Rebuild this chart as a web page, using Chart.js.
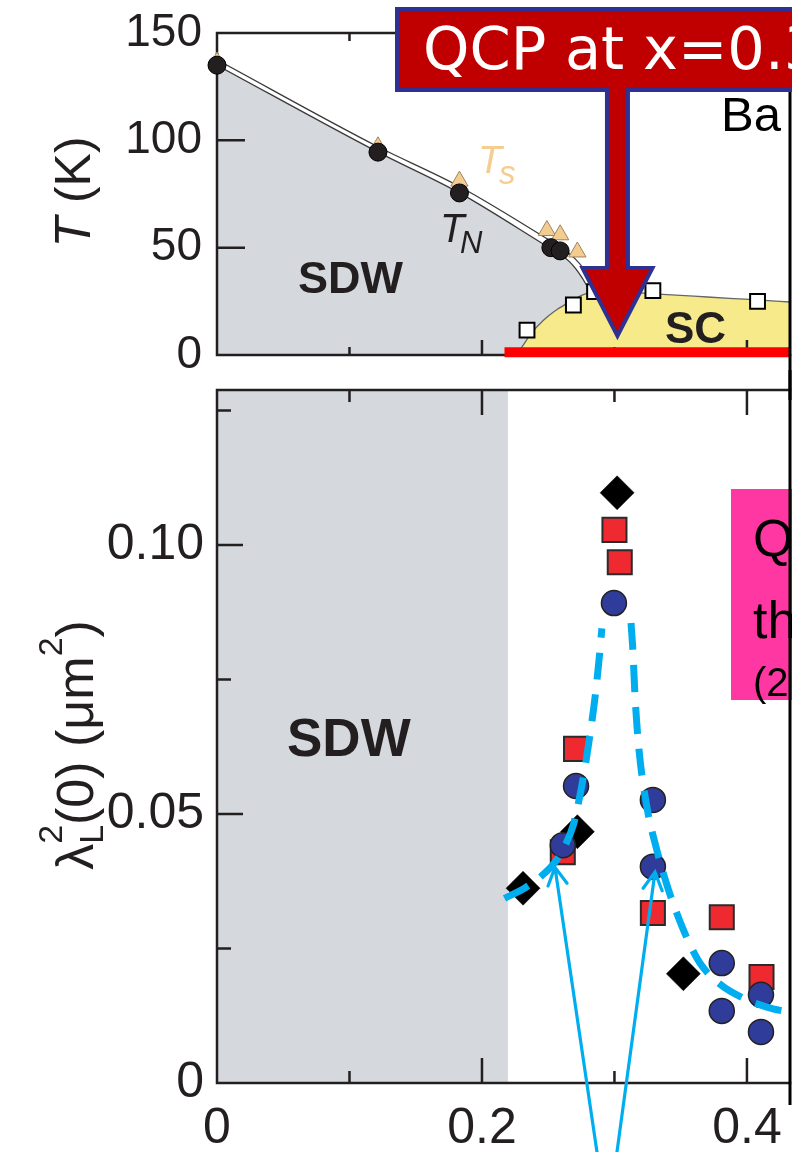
<!DOCTYPE html>
<html lang="en">
<head>
<meta charset="UTF-8">
<title>BaFe2(As1-xPx)2 phase diagram and penetration depth</title>
<script src="https://cdn.jsdelivr.net/npm/chart.js"></script>
<style>
  body { margin: 0; background: #fff; }
  #wrap { position: relative; width: 792px; height: 1152px; overflow: hidden; }
  canvas { position: absolute; left: 0; }
  #topChart { top: 0; }
  #bottomChart { top: 370px; }
</style>
</head>
<body>
<div id="wrap">
  <canvas id="topChart" width="792" height="400"></canvas>
  <canvas id="bottomChart" width="792" height="782"></canvas>
</div>
<script>
const FONT = '"Liberation Sans", Arial, Helvetica, sans-serif';
const INK = '#231f20';
const CYAN = '#00aeef';

// shared x axis (P content x)
const xMax = 0.4325;
const xTicks = [0, 0.2, 0.4];
const xMajorMarks = [0.2, 0.4];
const xMinorMarks = [0.1, 0.3];

// ---- top panel: T (K) ----
const tMax = 150;
const tTicks = [0, 50, 100, 150];
const tMarks = [50, 100];

const tnX = [0, 0.1215, 0.183, 0.252, 0.259];
const tnY = [135, 94.5, 75.5, 50, 48.5];
const tsX = [0, 0.1215, 0.183, 0.249, 0.259, 0.272];
const tsY = [136.5, 97, 81, 58, 56, 48];
const scX = [0.234, 0.269, 0.285, 0.329, 0.408];
const scY = [11.6, 23.3, 29.5, 30, 25];

const tnLineX = [0, 0.1215, 0.183, 0.252, 0.260, 0.266, 0.271, 0.2755, 0.280, 0.284];
const tnLineY = [135, 94.5, 75.5, 49.5, 46.5, 43.5, 40, 36, 31.5, 29];
const tsLineX = [0, 0.1215, 0.183, 0.252, 0.262, 0.270, 0.277, 0.283, 0.288];
const tsLineY = [137.5, 97, 78.5, 53, 49, 45, 40, 34.5, 30];
const domeX = [0.226, 0.231, 0.237, 0.246, 0.255, 0.264, 0.272, 0.28, 0.29, 0.31, 0.33, 0.36, 0.39, 0.41, 0.4325];
const domeY = [0, 4.5, 10, 16, 20.5, 24, 26.8, 28.8, 29.6, 29.3, 28.5, 27.4, 26.3, 25.6, 24.7];
const redLineX = [0.217, 0.4325];
const redLineY = [1.3, 1.3];
const qcpX = 0.3;

// ---- bottom panel: lambda_L^2(0) (um^2) ----
const lamMax = 0.1288;
const lamTicks = [0, 0.05, 0.10];
const lamMajorMarks = [0.05, 0.10];
const lamMinorMarks = [0.025, 0.075, 0.125];
const sdwBandX = [0, 0.2196];

const diamondX = [0.231, 0.272, 0.302, 0.352];
const diamondY = [0.0362, 0.0467, 0.1097, 0.0203];
const squareX = [0.261, 0.271, 0.300, 0.304, 0.329, 0.381, 0.411];
const squareY = [0.0429, 0.0621, 0.1028, 0.0968, 0.0316, 0.0308, 0.0197];
const circleX = [0.261, 0.271, 0.2996, 0.329, 0.329, 0.381, 0.381, 0.4106, 0.4106];
const circleY = [0.0442, 0.0552, 0.0892, 0.0526, 0.0402, 0.0223, 0.0134, 0.0164, 0.0095];

const fitLeftX = [0.217, 0.232, 0.245, 0.255, 0.263, 0.269, 0.274, 0.278, 0.282, 0.2855, 0.2885, 0.2905];
const fitLeftY = [0.0343, 0.0362, 0.0385, 0.041, 0.0443, 0.048, 0.0535, 0.059, 0.0655, 0.072, 0.079, 0.0845];
const fitRightX = [0.3125, 0.314, 0.3155, 0.3185, 0.3245, 0.332, 0.34, 0.347, 0.355, 0.3645, 0.38, 0.397, 0.415, 0.4325];
const fitRightY = [0.0855, 0.080, 0.072, 0.062, 0.0513, 0.0433, 0.0365, 0.0316, 0.0268, 0.0223, 0.0183, 0.0158, 0.0141, 0.0131];

// arrows pointing at the two samples either side of the peak
const arrowTailX = [0.2868, 0.3019];
const arrowTailY = [-0.0128, -0.0128];
const arrowTipX = [0.2551, 0.3306];
const arrowTipY = [0.0401, 0.0392];

const pts = (xs, ys) => xs.map((x, i) => ({x: x, y: ys[i]}));

function txt(ctx, s, x, y, font, color, align) {
  ctx.font = font;
  ctx.fillStyle = color;
  ctx.textAlign = align || 'left';
  ctx.textBaseline = 'alphabetic';
  ctx.fillText(s, x, y);
}

// rotated axis title built from pieces (sub/superscripts)
function vTitle(ctx, cx, cy, parts) {
  ctx.save();
  ctx.translate(cx, cy);
  ctx.rotate(-Math.PI / 2);
  ctx.fillStyle = INK;
  ctx.textBaseline = 'alphabetic';
  ctx.textAlign = 'left';
  let total = 0;
  parts.forEach(p => { ctx.font = p.font; p.w = ctx.measureText(p.t).width; if (!p.stack) total += p.w; });
  let x = -total / 2, last = x;
  parts.forEach(p => {
    ctx.font = p.font;
    const at = p.stack ? last : x;
    ctx.fillText(p.t, at, p.dy || 0);
    if (!p.stack) { last = x; x += p.w; }
  });
  ctx.restore();
}

// axis box with inward tick marks, drawn right after the shaded regions
function drawFrame(chart, o) {
  const ctx = chart.ctx, a = chart.chartArea, xs = chart.scales.x, ys = chart.scales.y;
  ctx.save();
  ctx.strokeStyle = INK;
  ctx.lineWidth = 2.5;
  ctx.lineCap = 'square';
  ctx.beginPath();
  ctx.moveTo(a.right, a.top); ctx.lineTo(a.left, a.top);
  ctx.lineTo(a.left, a.bottom); ctx.lineTo(a.right, a.bottom);
  ctx.stroke();
  ctx.lineCap = 'butt';
  ctx.beginPath();
  const xt = (vals, len) => vals.forEach(v => {
    const px = xs.getPixelForValue(v);
    ctx.moveTo(px, a.bottom); ctx.lineTo(px, a.bottom - len);
    ctx.moveTo(px, a.top); ctx.lineTo(px, a.top + len);
  });
  const yt = (vals, len) => vals.forEach(v => {
    const py = ys.getPixelForValue(v);
    ctx.moveTo(a.left, py); ctx.lineTo(a.left + len, py);
  });
  xt(xMajorMarks, o.xMajor); xt(xMinorMarks, o.xMinor);
  yt(o.yMajorVals, o.yMajor); yt(o.yMinorVals || [], o.yMinor || 0);
  ctx.stroke();
  ctx.restore();
}

const framePlugin = {
  id: 'frame',
  afterDatasetDraw(chart, args, opts) {
    if (chart.data.datasets[args.index].label === opts.after) drawFrame(chart, opts);
  }
};

function xScale(showLabels, h) {
  return {
    type: 'linear', min: 0, max: xMax,
    grid: {display: false}, border: {display: false},
    afterBuildTicks: s => { s.ticks = xTicks.map(v => ({value: v})); },
    ticks: {display: showLabels, autoSkip: false, maxRotation: 0, padding: 8, color: INK,
      font: {family: FONT, size: 50}, callback: v => v === 0 ? '0' : v.toFixed(1)},
    afterFit: s => { s.height = h; s.paddingLeft = 0; s.paddingRight = 0; }
  };
}

function yScale(max, ticks, size, pad, fmt) {
  return {
    type: 'linear', min: 0, max: max,
    grid: {display: false}, border: {display: false},
    afterBuildTicks: s => { s.ticks = ticks.map(v => ({value: v})); },
    ticks: {autoSkip: false, padding: pad, color: INK, font: {family: FONT, size: size}, callback: fmt},
    afterFit: s => { s.width = 217; s.paddingTop = 0; s.paddingBottom = 0; }
  };
}

// nudge layout padding until the plot box sits where it should
function pinArea(chart, pad, want) {
  for (let i = 0; i < 3; i++) {
    const a = chart.chartArea;
    const dr = a.right - want.right, dt = want.top - a.top, db = a.bottom - want.bottom;
    if (Math.abs(dr) < 0.5 && Math.abs(dt) < 0.5 && Math.abs(db) < 0.5) break;
    pad.right += dr; pad.top += dt; pad.bottom += db;
    chart.update();
  }
}

// ---------- top: phase diagram ----------
const topDecor = {
  id: 'topDecor',
  afterDraw(chart) {
    const ctx = chart.ctx, a = chart.chartArea, xs = chart.scales.x;
    ctx.save();
    txt(ctx, 'SDW', 298, 293, 'bold 45px ' + FONT, INK);
    txt(ctx, 'SC', 665, 343, 'bold 44px ' + FONT, INK);
    txt(ctx, 'T', 440, 242, 'italic 40px ' + FONT, INK);
    txt(ctx, 'N', 460, 253, 'italic 31px ' + FONT, INK);
    txt(ctx, 'T', 478, 173, 'italic 39px ' + FONT, '#f5cd91');
    txt(ctx, 's', 499, 184, 'italic 33px ' + FONT, '#f5cd91');
    txt(ctx, 'Ba', 721, 131, '49px ' + FONT, '#000');
    vTitle(ctx, 90, 192, [
      {t: 'T', font: 'italic 50px ' + FONT},
      {t: ' (K)', font: '50px ' + FONT}
    ]);
    // right border of the neighbouring panel
    ctx.strokeStyle = '#000';
    ctx.lineWidth = 3;
    ctx.beginPath(); ctx.moveTo(a.right, 90); ctx.lineTo(a.right, chart.height); ctx.stroke();

    // QCP callout with arrow down to x = 0.3
    const tip = xs.getPixelForValue(qcpX) + 3;
    ctx.beginPath();
    ctx.moveTo(397, 9);
    ctx.lineTo(820, 9);
    ctx.lineTo(820, 90);
    ctx.lineTo(tip + 10.5, 90);
    ctx.lineTo(tip + 10.5, 268);
    ctx.lineTo(tip + 35, 268);
    ctx.lineTo(tip, 336);
    ctx.lineTo(tip - 35, 268);
    ctx.lineTo(tip - 10.5, 268);
    ctx.lineTo(tip - 10.5, 90);
    ctx.lineTo(397, 90);
    ctx.closePath();
    ctx.fillStyle = '#c00000';
    ctx.fill();
    ctx.lineJoin = 'miter';
    ctx.lineWidth = 4;
    ctx.strokeStyle = '#2e3192';
    ctx.stroke();
    txt(ctx, 'QCP at x=0.3', 423, 69, '59px "DejaVu Sans", sans-serif', '#fff');
    ctx.restore();
  }
};

const topPad = {left: 0, right: 2, top: 33, bottom: 0};
const topChart = new Chart(document.getElementById('topChart'), {
  type: 'scatter',
  data: {datasets: [
    {label: 'SC window', type: 'line', data: pts(redLineX, redLineY), borderColor: '#ff0000', borderWidth: 10,
      borderCapStyle: 'butt', pointRadius: 0, fill: false, clip: false},
    {label: 'T_N', data: pts(tnX, tnY), pointStyle: 'circle', pointRadius: 9,
      backgroundColor: INK, borderColor: '#000', borderWidth: 1, clip: false},
    {label: 'T_s', data: pts(tsX, tsY), pointStyle: 'triangle', pointRadius: 10,
      backgroundColor: '#f3cd90', borderColor: '#9c8462', borderWidth: 1, clip: false},
    {label: 'T_c', data: pts(scX, scY), pointStyle: 'rect', pointRadius: 10.5,
      backgroundColor: '#fff', borderColor: '#000', borderWidth: 2, clip: false},
    {label: 'T_s line', type: 'line', data: pts(tsLineX, tsLineY), borderColor: '#3a3a3a', borderWidth: 1.3,
      pointRadius: 0, fill: false, cubicInterpolationMode: 'monotone'},
    {label: 'SC dome', type: 'line', data: pts(domeX, domeY), borderColor: '#666', borderWidth: 1.3,
      backgroundColor: '#f6ea8b', fill: 'origin', pointRadius: 0, cubicInterpolationMode: 'monotone'},
    {label: 'SDW region', type: 'line', data: pts(tnLineX, tnLineY), borderColor: '#3a3a3a', borderWidth: 1.3,
      backgroundColor: '#d5d8dd', fill: 'origin', pointRadius: 0, cubicInterpolationMode: 'monotone'}
  ]},
  options: {
    responsive: false, animation: false, events: [],
    layout: {padding: topPad, autoPadding: false},
    scales: {
      x: xScale(false, 45),
      y: yScale(tMax, tTicks, 46, 7, v => String(v))
    },
    plugins: {
      legend: {display: false}, tooltip: {enabled: false},
      frame: {after: 'SC dome', xMajor: 15, xMinor: 8, yMajorVals: tMarks, yMajor: 28}
    }
  },
  plugins: [framePlugin, topDecor]
});
pinArea(topChart, topPad, {right: 790, top: 33, bottom: 355});

// ---------- bottom: penetration depth ----------
function arrow(ctx, x0, y0, x1, y1) {
  const ang = Math.atan2(y1 - y0, x1 - x0), len = 20, spread = 0.5;
  ctx.beginPath();
  ctx.moveTo(x0, y0); ctx.lineTo(x1, y1);
  ctx.moveTo(x1 - len * Math.cos(ang - spread), y1 - len * Math.sin(ang - spread));
  ctx.lineTo(x1, y1);
  ctx.lineTo(x1 - len * Math.cos(ang + spread), y1 - len * Math.sin(ang + spread));
  ctx.stroke();
}

const bottomDecor = {
  id: 'bottomDecor',
  afterDraw(chart) {
    const ctx = chart.ctx, a = chart.chartArea, xs = chart.scales.x, ys = chart.scales.y;
    ctx.save();
    txt(ctx, 'SDW', 287, 386, 'bold 53px ' + FONT, INK);

    // pink note box (cut by the panel edge)
    ctx.fillStyle = '#ff37a3';
    ctx.fillRect(731, 119, 70, 211);
    txt(ctx, 'Q', 753, 186, '52px ' + FONT, '#000');
    txt(ctx, 'th', 753, 268, '52px ' + FONT, '#000');
    txt(ctx, '(2', 753, 326, '40px ' + FONT, '#000');

    ctx.strokeStyle = CYAN;
    ctx.lineWidth = 3.2;
    ctx.lineCap = 'round';
    for (let i = 0; i < arrowTipX.length; i++) {
      arrow(ctx, xs.getPixelForValue(arrowTailX[i]), ys.getPixelForValue(arrowTailY[i]),
        xs.getPixelForValue(arrowTipX[i]), ys.getPixelForValue(arrowTipY[i]));
    }

    ctx.strokeStyle = '#000';
    ctx.lineWidth = 3;
    ctx.lineCap = 'butt';
    ctx.beginPath(); ctx.moveTo(a.right, 0); ctx.lineTo(a.right, a.bottom + 22); ctx.stroke();

    vTitle(ctx, 93, 375, [
      {t: '\u03bb', font: '52px ' + FONT},
      {t: 'L', font: '34px ' + FONT, dy: 10},
      {t: '2', font: '34px ' + FONT, dy: -31, stack: true},
      {t: '(0) (\u03bcm', font: '52px ' + FONT},
      {t: '2', font: '34px ' + FONT, dy: -31},
      {t: ')', font: '52px ' + FONT}
    ]);
    ctx.restore();
  }
};

const fitStyle = {type: 'line', borderColor: CYAN, borderWidth: 7, borderDash: [27, 15], borderCapStyle: 'butt',
  pointRadius: 0, fill: false, cubicInterpolationMode: 'monotone', clip: false};

const bottomPad = {left: 0, right: 2, top: 20, bottom: 0};
const bottomChart = new Chart(document.getElementById('bottomChart'), {
  type: 'scatter',
  data: {datasets: [
    Object.assign({label: 'fit left', data: pts(fitLeftX, fitLeftY)}, fitStyle),
    Object.assign({label: 'fit right', data: pts(fitRightX, fitRightY)}, fitStyle),
    {label: 'circles', data: pts(circleX, circleY), pointStyle: 'circle', pointRadius: 12.5,
      backgroundColor: '#303c9a', borderColor: '#222', borderWidth: 1.5, clip: false},
    {label: 'diamonds', data: pts(diamondX, diamondY), pointStyle: 'rectRot', pointRadius: 17,
      backgroundColor: '#000', borderColor: '#000', borderWidth: 0.5, clip: false},
    {label: 'squares', data: pts(squareX, squareY), pointStyle: 'rect', pointRadius: 17,
      backgroundColor: '#ee2a30', borderColor: '#2b2b2b', borderWidth: 2, clip: false},
    {label: 'SDW band', type: 'line', data: pts(sdwBandX, [lamMax, lamMax]), borderColor: 'rgba(0,0,0,0)',
      borderWidth: 0, backgroundColor: '#d5d8dd', fill: 'origin', pointRadius: 0}
  ]},
  options: {
    responsive: false, animation: false, events: [],
    layout: {padding: bottomPad, autoPadding: false},
    scales: {
      x: xScale(true, 69),
      y: yScale(lamMax, lamTicks, 50, 5, v => v === 0 ? '0' : v.toFixed(2))
    },
    plugins: {
      legend: {display: false}, tooltip: {enabled: false},
      frame: {after: 'SDW band', xMajor: 25, xMinor: 12, yMajorVals: lamMajorMarks, yMajor: 26,
        yMinorVals: lamMinorMarks, yMinor: 14}
    }
  },
  plugins: [framePlugin, bottomDecor]
});
pinArea(bottomChart, bottomPad, {right: 790, top: 20, bottom: 713});
</script>
</body>
</html>
